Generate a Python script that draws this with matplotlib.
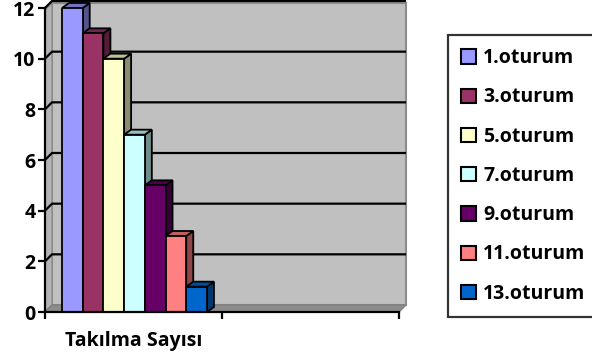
import matplotlib
matplotlib.use('Agg')
import matplotlib.pyplot as plt
from matplotlib.patches import Polygon, Patch

# ---- data ----
series = ['1.oturum', '3.oturum', '5.oturum', '7.oturum', '9.oturum', '11.oturum', '13.oturum']
values = [12, 11, 10, 7, 5, 3, 1]
colors = ['#9999FF', '#993366', '#FFFFCC', '#CCFFFF', '#660066', '#FF8080', '#0066CC']
category = 'Takılma Sayısı'
yticks = [0, 2, 4, 6, 8, 10, 12]

plt.rcParams['font.family'] = ['Open Sans', 'DejaVu Sans']
plt.rcParams['font.weight'] = 'bold'
FS = 14

W, H = 592, 360
fig = plt.figure(figsize=(W / 100, H / 100), dpi=100)
ax = fig.add_axes([45 / W, (H - 312) / H, (399 - 45) / W, 304 / H])
ax.set_xlim(0, 2)
ax.set_ylim(0, 12)
ax.set_facecolor('none')

# pixel -> data conversions
xpu = (399 - 45) / 2.0
ypu = 304 / 12.0
dxw, dyw = 7 / xpu, 7 / ypu     # wall depth
dxb, dyb = 7 / xpu, 5 / ypu     # bar depth


def shade(c, f):
    r, g, b = matplotlib.colors.to_rgb(c)
    return (r * f, g * f, b * f)


ytop = 12 + 5 / ypu
# back wall
ax.add_patch(Polygon([(dxw, dyw), (2 + dxw, dyw), (2 + dxw, ytop), (dxw, ytop)],
                     closed=True, facecolor='#C0C0C0', edgecolor='#8C8C8C', lw=1.5,
                     clip_on=False, zorder=0.5))
# left wall
ax.add_patch(Polygon([(0, 0), (dxw, dyw), (dxw, ytop), (0, ytop - dyw)],
                     closed=True, facecolor='#B4B4B4', edgecolor='#8C8C8C', lw=1.0,
                     clip_on=False, zorder=0.6))
# floor
ax.add_patch(Polygon([(0, 0), (2, 0), (2 + dxw, dyw), (dxw, dyw)],
                     closed=True, facecolor='#8C8C8C', edgecolor='#808080', lw=1.0,
                     clip_on=False, zorder=0.6))

# gridlines on walls
for y in yticks[1:]:
    ax.plot([0, dxw, 2 + dxw], [y, y + dyw, y + dyw], color='black', lw=1.6,
            zorder=0.8, clip_on=False, solid_capstyle='butt')

# bars with faux 3D
w = 0.117
x0 = 0.096
handles = []
for i, (name, v, c) in enumerate(zip(series, values, colors)):
    left = x0 + i * w
    z = 2 + i * 0.1
    ax.add_patch(Polygon([(left + w, 0), (left + w, v), (left + w + dxb, v + dyb), (left + w + dxb, dyb)],
                         closed=True, facecolor=shade(c, 0.55), edgecolor='black', lw=1.3,
                         zorder=z, clip_on=False))
    ax.add_patch(Polygon([(left, v), (left + w, v), (left + w + dxb, v + dyb), (left + dxb, v + dyb)],
                         closed=True, facecolor=shade(c, 0.75), edgecolor='black', lw=1.3,
                         zorder=z, clip_on=False))
    ax.bar(left, v, width=w, align='edge', color=c, edgecolor='black', lw=1.3, zorder=z + 0.05)
    handles.append(Patch(facecolor=c, edgecolor='black', lw=1.5))

# axes styling
for s in ['top', 'right']:
    ax.spines[s].set_visible(False)
for s in ['left', 'bottom']:
    ax.spines[s].set_linewidth(1.6)
    ax.spines[s].set_color('black')
    ax.spines[s].set_zorder(5)
ax.set_yticks(yticks)
ax.set_yticklabels([str(t) for t in yticks], fontsize=FS, fontweight='bold')
ax.tick_params(axis='y', direction='out', length=5, width=1.6, pad=2)
ax.set_xticks([0, 1, 2])
ax.set_xticklabels(['', '', ''])
ax.tick_params(axis='x', which='major', direction='out', length=5, width=1.6)
ax.set_xticks([0.5], labels=[category], minor=True)
ax.tick_params(axis='x', which='minor', length=0, pad=14, labelsize=FS)
for lab in ax.get_xticklabels(minor=True):
    lab.set_fontweight('bold')

leg = fig.legend(handles, series, loc='upper left', bbox_to_anchor=(448 / W, 1 - 35 / H),
                 frameon=True, fancybox=False, edgecolor='black',
                 prop={'weight': 'bold', 'size': FS}, handlelength=0.78, handleheight=0.75,
                 handletextpad=0.35, labelspacing=0.99, borderpad=0.68, borderaxespad=0)
leg.get_frame().set_linewidth(1.6)

fig.savefig('out.png', dpi=100, facecolor='white')
